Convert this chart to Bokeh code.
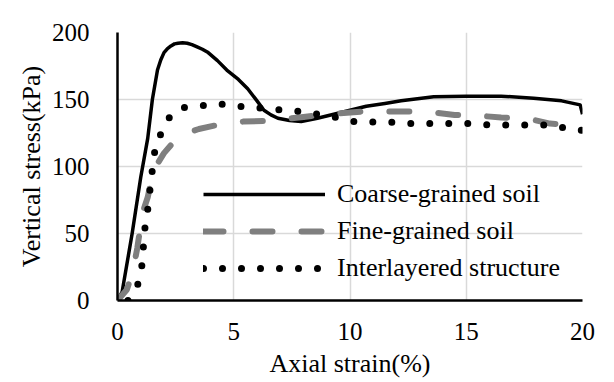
from bokeh.plotting import figure
from bokeh.models import Range1d, FixedTicker, Legend, LegendItem
from bokeh.embed import file_html
from bokeh.resources import INLINE

coarse_x = [0, 0.2, 0.63, 1.0, 1.3, 1.5, 1.72, 1.86, 2.0, 2.15, 2.3, 2.45, 2.6, 2.8, 3.0, 3.2, 3.4,
            3.65, 3.9, 4.3, 4.7, 5.2, 5.6, 6.0, 6.3, 6.6, 6.9, 7.4, 7.9, 8.6, 9.3, 10.0, 10.7, 11.5,
            12.2, 13.6, 15.0, 16.5, 17.9, 19.1, 19.9, 20.0]
coarse_y = [0, 6.5, 50, 92, 121, 150, 172, 179.5, 185, 188, 190, 191.5, 192, 192.3, 192, 191, 189.5,
            187.5, 185, 179, 172, 165, 158, 149, 142, 138.5, 136, 134.3, 133.5, 136, 139, 142, 145, 147,
            149, 152, 152.5, 152.5, 151, 149, 146, 139]

fine_x = [0, 0.4, 0.65, 0.85, 1.07, 1.3, 1.5, 1.75, 2.0, 2.5, 3.0, 3.5, 4.3, 5.4, 6.3, 7.0, 8.0, 9.0,
          10.5, 12.0, 13.3, 14.5, 15.5, 16.5, 17.6, 18.6, 19.8, 20.0]
fine_y = [0, 8, 21, 39, 65, 77, 94, 103, 110, 120, 125, 128, 131, 133.5, 134, 135, 137, 139,
          141, 141, 141, 138.5, 138, 136.5, 136, 132, 131, 130]

inter_x = [0.45, 0.7, 0.9, 1.07, 1.12, 1.2, 1.34, 1.42, 1.63, 1.93, 2.28, 2.8, 3.5, 4.3, 5.07, 5.85,
           6.5, 7.2, 7.95, 9.6, 10.2, 11.8, 12.7, 14.3, 15.1, 16.0, 16.9, 17.7, 18.5, 19.9, 20.0]
inter_y = [0, 6, 13, 28, 42, 58, 72, 87, 115, 127, 138, 144, 145, 147, 145, 144,
           143, 142, 141, 136, 133.5, 133, 132, 132, 132, 131, 131, 131, 131, 127, 127]

x_ticks = [0, 5, 10, 15, 20]
y_ticks = [0, 50, 100, 150, 200]
series_names = ["Coarse-grained soil", "Fine-grained soil", "Interlayered structure"]
x_title = "Axial strain(%)"
y_title = "Vertical stress(kPa)"

FONT = "'Liberation Serif', 'Times New Roman', serif"

p = figure(width=598, height=380, output_backend="svg", toolbar_location=None,
           x_range=Range1d(0, 20), y_range=Range1d(0, 200),
           min_border_left=117, min_border_right=16, min_border_top=32, min_border_bottom=74)
p.outline_line_color = None
p.background_fill_color = "white"
p.border_fill_color = "white"

for ax, ticks in ((p.xaxis, x_ticks), (p.yaxis, y_ticks)):
    ax.ticker = FixedTicker(ticks=ticks)
    ax.axis_line_color = "black"
    ax.axis_line_width = 2.5
    ax.major_tick_line_color = None
    ax.minor_tick_line_color = None
    ax.major_label_text_font = FONT
    ax.major_label_text_font_size = "25px"
    ax.major_label_text_color = "black"
    ax.axis_label_text_font = FONT
    ax.axis_label_text_font_size = "26px"
    ax.axis_label_text_font_style = "normal"
    ax.axis_label_text_color = "black"

p.xaxis.axis_label = x_title
p.yaxis.axis_label = y_title
p.xaxis.major_label_standoff = 16
p.yaxis.major_label_standoff = 22
p.xaxis.axis_label_standoff = 6
p.yaxis.axis_label_standoff = 3

p.xgrid.ticker = FixedTicker(ticks=x_ticks)
p.ygrid.ticker = FixedTicker(ticks=y_ticks)
for g in (p.xgrid, p.ygrid):
    g.grid_line_color = "#d9d9d9"
    g.grid_line_width = 1.5

r1 = p.line(coarse_x, coarse_y, line_color="black", line_width=3.5, line_join="round")
r2 = p.line(fine_x, fine_y, line_color="#7f7f7f", line_width=6, line_dash="20 29", line_cap="round")
r3 = p.line(inter_x, inter_y, line_color="black", line_width=7, line_dash="0 19", line_cap="round")

legend = Legend(items=[LegendItem(label=series_names[0], renderers=[r1]),
                       LegendItem(label=series_names[1], renderers=[r2]),
                       LegendItem(label=series_names[2], renderers=[r3])],
                location=(86, 17), orientation="vertical")
legend.glyph_width = 122
legend.glyph_height = 30
legend.label_height = 30
legend.spacing = 7
legend.padding = 0
legend.margin = 0
legend.label_standoff = 12
legend.label_text_font = FONT
legend.label_text_font_size = "26px"
legend.label_text_color = "black"
legend.border_line_color = None
legend.background_fill_alpha = 0
p.add_layout(legend, "center")

open("out.html", "w").write(file_html(p, INLINE))
